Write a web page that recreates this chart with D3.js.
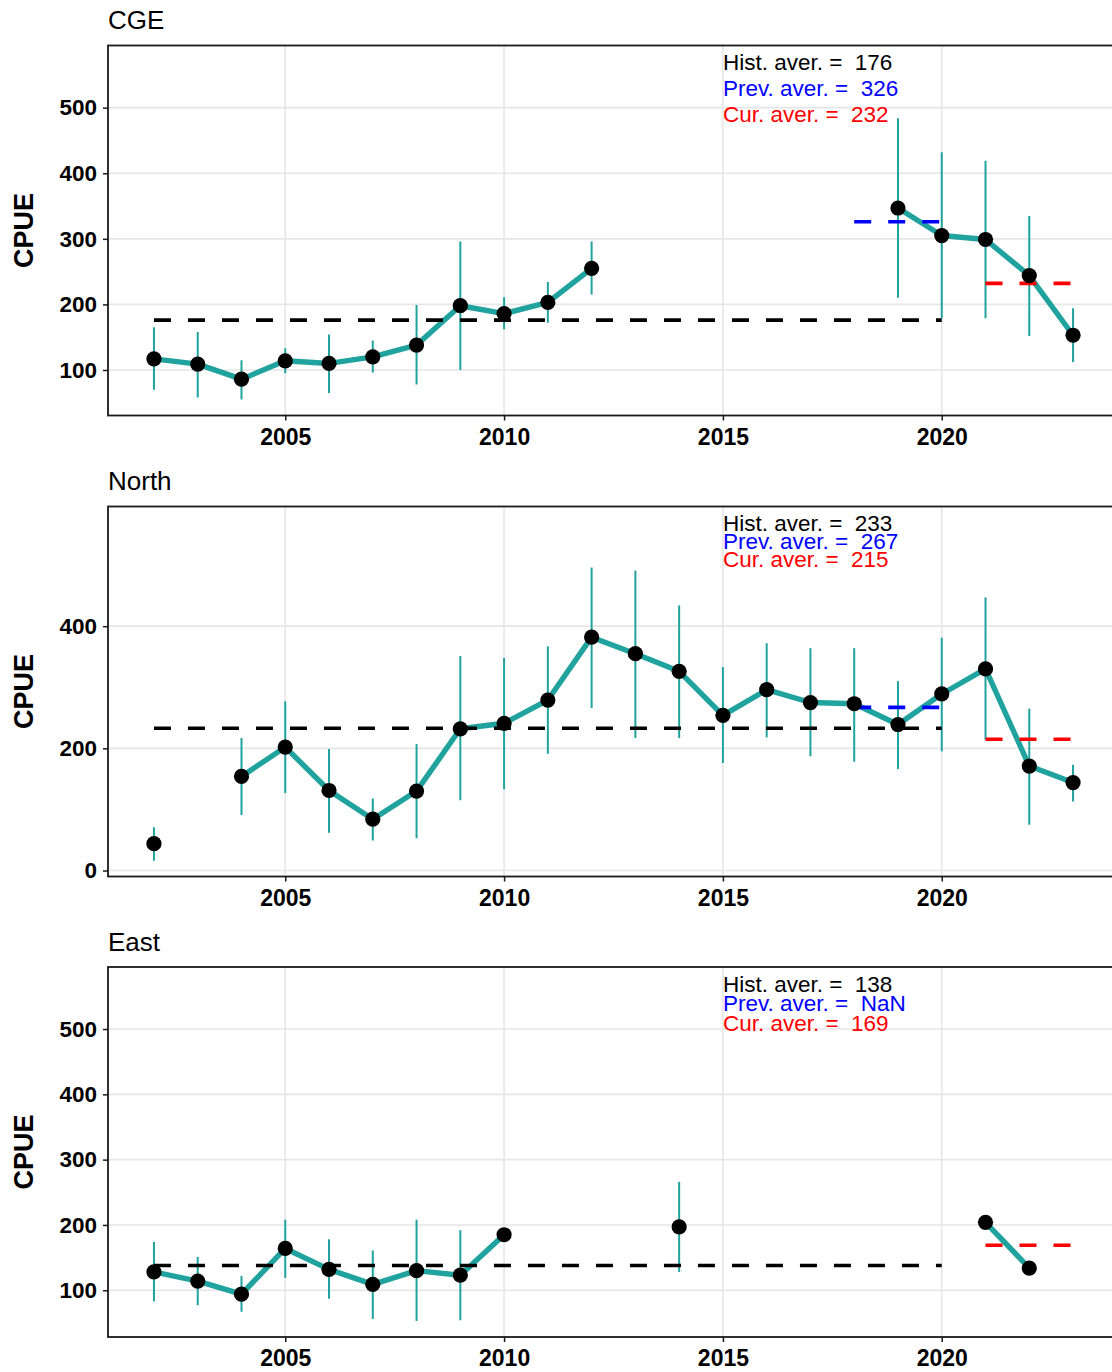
<!DOCTYPE html>
<html>
<head>
<meta charset="utf-8">
<script src="https://cdn.jsdelivr.net/npm/d3@7"></script>
<style>
  html, body { margin: 0; padding: 0; background: #fff; }
  svg { display: block; font-family: "Liberation Sans", Arial, Helvetica, sans-serif; }
</style>
</head>
<body>
<svg id="chart" width="1112" height="1372"></svg>
<script>
// ---- data ---------------------------------------------------------------
const years = [2002, 2003, 2004, 2005, 2006, 2007, 2008, 2009, 2010, 2011, 2012,
               2013, 2014, 2015, 2016, 2017, 2018, 2019, 2020, 2021, 2022, 2023];
const regions = ["CGE", "North", "East"];

const cgeCpue  = [117, 109, 86, 114, 110, 120, 138, 198, 186, 203, 255,
                  null, null, null, null, null, null, 347, 305, 299, 244, 153];
const cgeLower = [70, 58, 55, 95, 65, 96, 78, 100, 162, 172, 215,
                  null, null, null, null, null, null, 210, 179, 179, 152, 112];
const cgeUpper = [165, 158, 115, 133, 154, 145, 199, 296, 211, 234, 296,
                  null, null, null, null, null, null, 484, 432, 419, 335, 194];

const northCpue  = [44, null, 154, 202, 131, 84, 130, 232, 241, 279, 382,
                    355, 326, 254, 296, 275, 273, 239, 289, 330, 171, 144];
const northLower = [16, null, 91, 127, 62, 49, 53, 115, 133, 191, 266,
                    217, 217, 176, 218, 187, 178, 166, 195, 214, 75, 113];
const northUpper = [71, null, 217, 277, 199, 118, 207, 351, 348, 367, 496,
                    491, 434, 333, 372, 364, 364, 310, 381, 447, 265, 173];

const eastCpue  = [128, 114, 94, 164, 132, 109, 130, 123, 185, null, null,
                   null, 197, null, null, null, null, null, null, 204, 134, null];
const eastLower = [83, 77, 67, 119, 87, 56, 53, 54, null, null, null,
                   null, 128, null, null, null, null, null, null, null, null, null];
const eastUpper = [174, 151, 122, 208, 178, 161, 208, 192, null, null, null,
                   null, 266, null, null, null, null, null, null, null, null, null];

// period averages per region (CGE, North, East)
const histAverage = [176, 233, 138];
const prevAverage = [326, 267, NaN];
const curAverage  = [232, 215, 169];
const histPeriod = [2002, 2020];
const prevPeriod = [2018, 2020];
const curPeriod  = [2021, 2023];

const yTickValues = [[100, 200, 300, 400, 500], [0, 200, 400], [100, 200, 300, 400, 500]];
const xTickValues = [2005, 2010, 2015, 2020];

// ---- layout -------------------------------------------------------------
const plotLeft = 108, plotRight = 1119;
const panelTops = [45.5, 506.5, 967];
const panelHeight = 370;
const yDomains = [[30.6, 594.8], [-9.8, 595.9], [28.4, 595]];
const labelSpacing = [26, 18, 19.5];

const teal = "#20A39E";
const fontFamily = '"Liberation Sans", Arial, Helvetica, sans-serif';

const panels = regions.map((name, i) => ({
  name,
  cpue: [cgeCpue, northCpue, eastCpue][i],
  lower: [cgeLower, northLower, eastLower][i],
  upper: [cgeUpper, northUpper, eastUpper][i],
  hist: histAverage[i], prev: prevAverage[i], cur: curAverage[i],
  yTicks: yTickValues[i],
  yDomain: yDomains[i],
  top: panelTops[i],
  spacing: labelSpacing[i]
}));

const x = d3.scaleLinear().domain([2000.95, 2024.05]).range([plotLeft, plotRight]);
const svg = d3.select("#chart");

panels.forEach(p => {
  const top = p.top, bottom = p.top + panelHeight;
  const y = d3.scaleLinear().domain(p.yDomain).range([bottom, top]);
  const g = svg.append("g");

  const clipId = "clip-" + p.name;
  g.append("clipPath").attr("id", clipId)
    .append("rect").attr("x", plotLeft).attr("y", top)
    .attr("width", plotRight - plotLeft).attr("height", panelHeight);

  // grid
  const grid = g.append("g");
  grid.selectAll("line.gy").data(p.yTicks).join("line")
    .attr("x1", plotLeft).attr("x2", plotRight)
    .attr("y1", d => y(d)).attr("y2", d => y(d))
    .attr("stroke", "#e6e6e6").attr("stroke-width", 1.6);
  grid.selectAll("line.gx").data(xTickValues).join("line")
    .attr("x1", d => x(d)).attr("x2", d => x(d))
    .attr("y1", top).attr("y2", bottom)
    .attr("stroke", "#e6e6e6").attr("stroke-width", 1.6);

  const rows = years.map((yr, i) => ({ year: yr, v: p.cpue[i], lo: p.lower[i], hi: p.upper[i] }));
  const marks = g.append("g").attr("clip-path", `url(#${clipId})`);

  // connecting line (breaks where a year is missing)
  const line = d3.line().defined(d => d.v != null).x(d => x(d.year)).y(d => y(d.v));
  marks.append("path").datum(rows)
    .attr("d", line).attr("fill", "none")
    .attr("stroke", teal).attr("stroke-width", 5.4)
    .attr("stroke-linejoin", "round");

  // error bars
  marks.selectAll("line.err").data(rows.filter(d => d.lo != null && d.hi != null)).join("line")
    .attr("x1", d => x(d.year)).attr("x2", d => x(d.year))
    .attr("y1", d => y(d.lo)).attr("y2", d => y(d.hi))
    .attr("stroke", teal).attr("stroke-width", 2);

  // period averages
  const avgLines = [
    { v: p.hist, period: histPeriod, color: "#000000" },
    { v: p.prev, period: prevPeriod, color: "#0000FF" },
    { v: p.cur,  period: curPeriod,  color: "#FF0000" }
  ].filter(a => Number.isFinite(a.v));
  marks.selectAll("line.avg").data(avgLines).join("line")
    .attr("x1", d => x(d.period[0])).attr("x2", d => x(d.period[1]))
    .attr("y1", d => y(d.v)).attr("y2", d => y(d.v))
    .attr("stroke", d => d.color).attr("stroke-width", 3.6)
    .attr("stroke-dasharray", "17 17");

  // points
  marks.selectAll("circle").data(rows.filter(d => d.v != null)).join("circle")
    .attr("cx", d => x(d.year)).attr("cy", d => y(d.v)).attr("r", 7.6)
    .attr("fill", "#000");

  // panel border
  g.append("rect").attr("x", plotLeft).attr("y", top)
    .attr("width", plotRight - plotLeft).attr("height", panelHeight)
    .attr("fill", "none").attr("stroke", "#1a1a1a").attr("stroke-width", 1.8);

  // y axis
  const yAxis = g.append("g").attr("transform", `translate(${plotLeft},0)`)
    .call(d3.axisLeft(y).tickValues(p.yTicks).tickSize(5).tickPadding(6).tickFormat(d3.format("d")));
  yAxis.select(".domain").remove();
  yAxis.selectAll(".tick line").attr("stroke", "#1a1a1a").attr("stroke-width", 1.5);
  yAxis.selectAll(".tick text").attr("fill", "#000")
    .style("font-family", fontFamily).style("font-size", "22.5px").style("font-weight", "bold");

  // x axis
  const xAxis = g.append("g").attr("transform", `translate(0,${bottom})`)
    .call(d3.axisBottom(x).tickValues(xTickValues).tickSize(5).tickPadding(8).tickFormat(d3.format("d")));
  xAxis.select(".domain").remove();
  xAxis.selectAll(".tick line").attr("stroke", "#1a1a1a").attr("stroke-width", 1.5);
  xAxis.selectAll(".tick text").attr("fill", "#000")
    .style("font-family", fontFamily).style("font-size", "23px").style("font-weight", "bold");

  // y title
  g.append("text")
    .attr("transform", `translate(32.5,${(top + bottom) / 2}) rotate(-90)`)
    .attr("text-anchor", "middle")
    .style("font-family", fontFamily).style("font-size", "27px").style("font-weight", "bold")
    .text("CPUE");

  // panel title
  g.append("text").attr("x", plotLeft).attr("y", top - 16.5)
    .style("font-family", fontFamily).style("font-size", "26px")
    .text(p.name);

  // average labels
  const fmt = v => Number.isFinite(v) ? String(v) : "NaN";
  const labels = [
    { t: `Hist. aver. =  ${fmt(p.hist)}`, c: "#000000" },
    { t: `Prev. aver. =  ${fmt(p.prev)}`, c: "#0000FF" },
    { t: `Cur. aver. =  ${fmt(p.cur)}`,  c: "#FF0000" }
  ];
  g.selectAll("text.avglab").data(labels).join("text")
    .attr("x", x(2015)).attr("y", (d, i) => top + 24.5 + i * p.spacing)
    .attr("fill", d => d.c)
    .style("font-family", fontFamily).style("font-size", "22.5px")
    .style("white-space", "pre")
    .text(d => d.t);
});
</script>
</body>
</html>
